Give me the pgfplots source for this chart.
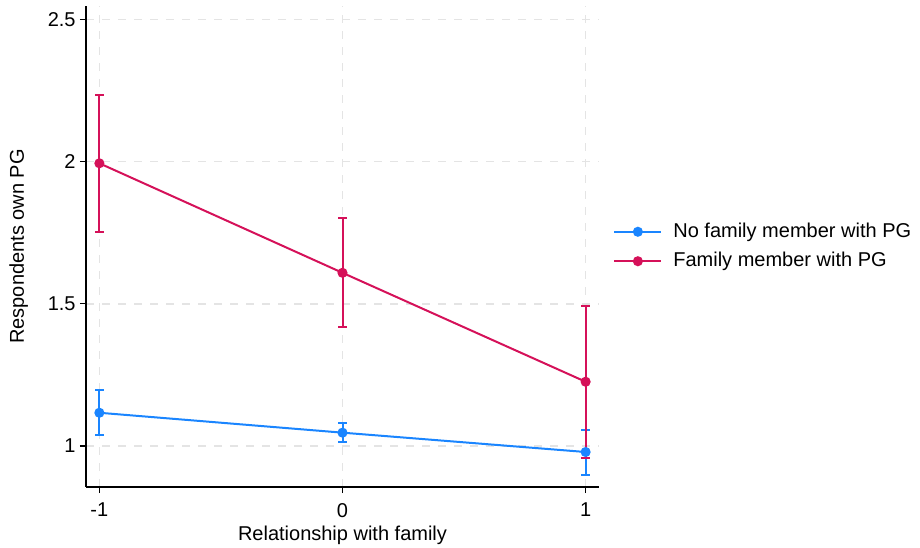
\documentclass[border=0pt]{standalone}
\usepackage{fontspec}
\setmainfont{Liberation Sans}
\usepackage{pgfplots}
\usepackage{pgfplotstable}
\pgfplotsset{compat=1.18}
\definecolor{sblue}{RGB}{26,133,255}
\definecolor{sred}{RGB}{213,17,89}
\definecolor{gridc}{RGB}{228,228,228}

\pgfplotstableread{
x  y      ep     em
-1 1.117  0.079  0.078
0  1.047  0.034  0.033
1  0.979  0.078  0.080
}\bluedata
\pgfplotstableread{
x  y      ep     em
-1 1.994  0.239  0.240
0  1.609  0.193  0.192
1  1.226  0.268  0.269
}\reddata

\begin{document}
\begin{tikzpicture}
\useasboundingbox (0,0) rectangle (460bp,274bp);
\begin{axis}[
  at={(43bp,30.5bp)}, anchor=south west,
  scale only axis, width=256.5bp, height=240.5bp,
  xmin=-1.055, xmax=1.055, ymin=0.856, ymax=2.547,
  axis x line*=bottom, axis y line*=left,
  axis line style={black, line width=0.6bp},
  tick align=outside, major tick length=3bp,
  tick style={black, line width=0.6bp},
  xtick={-1,0,1}, xticklabels={-1,0,1},
  ytick={1,1.5,2,2.5}, yticklabels={1,1.5,2,2.5},
  minor tick num=0,
  grid=major,
  grid style={gridc, line width=0.7bp, dash pattern=on 4bp off 4bp},
  ticklabel style={font=\fontsize{10bp}{12bp}\selectfont},
  yticklabel style={inner sep=2bp},
  xticklabel style={yshift=-1.5bp},
  label style={font=\fontsize{10bp}{12bp}\selectfont},
  xlabel={Relationship with family},
  ylabel={Respondents own PG},
  xlabel style={at={(axis description cs:0.5,0)}, anchor=center, yshift=-24bp},
  ylabel style={at={(axis description cs:0,0.5)}, anchor=center, yshift=33.6bp},
  legend style={draw=none, fill=none, at={(rel axis cs:1,0.5)}, anchor=west, xshift=4bp,
    font=\fontsize{10bp}{12bp}\selectfont, legend cell align=left, row sep=2bp,
    /tikz/every odd column/.append style={column sep=3.5bp}},
  legend image code/.code={\draw[mark repeat=2,mark phase=2] plot coordinates {(0bp,0bp) (11.75bp,0bp) (23.5bp,0bp)};},
]
% confidence intervals
\addplot[sblue, draw=none, mark=none, forget plot,
  error bars/.cd, y dir=both, y explicit,
  error bar style={sblue, draw=sblue, line width=1bp},
  error mark options={sblue, draw=sblue, rotate=90, mark size=2.1bp, line width=1bp}]
  table[x=x, y=y, y error plus=ep, y error minus=em] {\bluedata};
\addplot[sred, draw=none, mark=none, forget plot,
  error bars/.cd, y dir=both, y explicit,
  error bar style={sred, draw=sred, line width=1bp},
  error mark options={sred, draw=sred, rotate=90, mark size=2.1bp, line width=1bp}]
  table[x=x, y=y, y error plus=ep, y error minus=em] {\reddata};
% lines
\addplot[sblue, line width=1bp, mark=*, mark size=2bp, mark options={solid, fill=sblue, draw=sblue}]
  table[x=x, y=y] {\bluedata};
\addlegendentry{No family member with PG}
\addplot[sred, line width=1bp, mark=*, mark size=2bp, mark options={solid, fill=sred, draw=sred}]
  table[x=x, y=y] {\reddata};
\addlegendentry{Family member with PG}
\end{axis}
\end{tikzpicture}
\end{document}
